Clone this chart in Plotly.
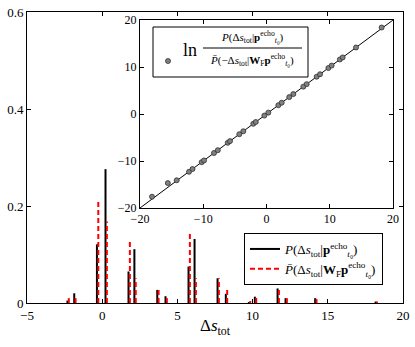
import plotly.graph_objects as go

# ---- data ----
ds_tot = [-2.31, -1.86, -0.35, 0.22, 1.75, 2.14, 3.66, 4.21, 5.74, 6.14,
          7.67, 8.22, 9.75, 10.15, 11.66, 12.19, 14.16, 18.18]
p_forward = [0.005, 0.020, 0.121, 0.276, 0.065, 0.111, 0.027, 0.014, 0.075, 0.132,
             0.051, 0.019, 0.002, 0.013, 0.030, 0.010, 0.010, 0.003]
p_backward = [0.010, 0.010, 0.211, 0.168, 0.129, 0.051, 0.028, 0.010, 0.147, 0.051,
              0.051, 0.028, 0.004, 0.012, 0.030, 0.010, 0.008, 0.003]

inset_x = [-18.1, -15.6, -14.2, -12.25, -11.7, -10.25, -9.88, -8.3, -7.7, -6.13,
           -5.77, -4.3, -3.67, -2.09, -1.7, -0.34, 0.29, 1.87, 2.4, 3.6, 4.24,
           5.82, 6.35, 7.93, 8.46, 9.78, 10.3, 11.6, 12.04, 14.15, 18.2]
inset_y = [-17.6, -14.7, -14.1, -12.3, -11.7, -10.25, -9.88, -8.3, -7.7, -6.13,
           -5.77, -4.3, -3.67, -2.09, -1.7, -0.34, 0.29, 1.87, 2.4, 3.6, 4.24,
           5.82, 6.35, 7.93, 8.46, 9.78, 10.3, 11.6, 12.04, 14.15, 18.4]
diag = [-20, 20]

main_xticks = [-5, 0, 5, 10, 15, 20]
main_xticklabels = ["\u22125", "0", "5", "10", "15", "20"]
main_yticks = [0, 0.2, 0.4, 0.6]
main_yticklabels = ["0", "0.2", "0.4", "0.6"]
inset_ticks = [-20, -10, 0, 10, 20]
inset_ticklabels = ["\u221220", "\u221210", "0", "10", "20"]

RED_SHIFT = 0.09  # small horizontal shift of the dashed series (style)

FONT = "Liberation Serif"


def stems(xs, ys, shift=0.0):
    sx, sy = [], []
    for x, y in zip(xs, ys):
        sx += [x + shift, x + shift, None]
        sy += [0, y, None]
    return sx, sy


fig = go.Figure()

bx, by = stems(ds_tot, p_forward)
rx, ry = stems(ds_tot, p_backward, RED_SHIFT)

lab1 = "<i>P</i>(\u0394<i>s</i><sub>tot</sub>|<b>p</b><sup>echo</sup><sub><i>t</i>\u2080</sub>)"
lab2 = "<i>P\u0304</i>(\u0394<i>s</i><sub>tot</sub>|<b>W</b><sub>F</sub><b>p</b><sup>echo</sup><sub><i>t</i>\u2080</sub>)"

fig.add_trace(go.Scatter(x=bx, y=by, mode="lines", name=lab1,
                         line=dict(color="black", width=2)))
fig.add_trace(go.Scatter(x=rx, y=ry, mode="lines", name=lab2,
                         line=dict(color="#ff0000", width=2, dash="5px,3px")))

# inset
fig.add_trace(go.Scatter(x=diag, y=diag, mode="lines", xaxis="x2", yaxis="y2",
                         line=dict(color="black", width=1), showlegend=False))
fig.add_trace(go.Scatter(x=inset_x, y=inset_y, mode="markers", xaxis="x2", yaxis="y2",
                         marker=dict(size=5, color="#808080",
                                     line=dict(color="#303030", width=0.8)),
                         showlegend=False))

L, R, T, B = 27, 12, 12, 44
W, H = 415, 347
pw, ph = W - L - R, H - T - B


def px2x(px):
    return (px - L) / pw


def py2y(py):
    return (H - B - py) / ph


axis_common = dict(showgrid=False, zeroline=False, showline=True, linecolor="black",
                   linewidth=1, mirror="ticks", ticks="inside", ticklen=4,
                   tickcolor="black", tickwidth=1, automargin=False)

fig.update_layout(
    width=W, height=H,
    margin=dict(l=L, r=R, t=T, b=B, autoexpand=False),
    paper_bgcolor="white", plot_bgcolor="white",
    font=dict(family=FONT, size=13, color="black"),
    xaxis=dict(range=[-5, 20], tickvals=main_xticks, ticktext=main_xticklabels,
               tickfont=dict(size=13), **axis_common),
    yaxis=dict(range=[0, 0.6], tickvals=main_yticks, ticktext=main_yticklabels,
               tickfont=dict(size=13), **axis_common),
    xaxis2=dict(domain=[px2x(140), px2x(393)], anchor="y2", range=[-20, 20],
                tickvals=inset_ticks, ticktext=inset_ticklabels,
                tickfont=dict(size=12), **axis_common),
    yaxis2=dict(domain=[py2y(208), py2y(20)], anchor="x2", range=[-20, 20],
                tickvals=inset_ticks, ticktext=inset_ticklabels,
                tickfont=dict(size=12), **axis_common),
    legend=dict(x=px2x(244), y=py2y(233), xanchor="left", yanchor="top",
                bgcolor="white", bordercolor="black", borderwidth=1,
                font=dict(size=13, family=FONT), tracegroupgap=0,
                itemwidth=30),
    showlegend=True,
)

# inset legend (box, marker, fraction label)
fig.add_shape(type="rect", xref="paper", yref="paper",
              x0=px2x(153), x1=px2x(308), y0=py2y(77), y1=py2y(27),
              line=dict(color="black", width=1), fillcolor="white", layer="above")
fig.add_shape(type="circle", xref="paper", yref="paper",
              xsizemode="pixel", ysizemode="pixel",
              xanchor=px2x(168), yanchor=py2y(61),
              x0=-2.5, x1=2.5, y0=-2.5, y1=2.5,
              fillcolor="#808080", line=dict(color="#303030", width=0.8))
fig.add_shape(type="line", xref="paper", yref="paper",
              x0=px2x(203), x1=px2x(302), y0=py2y(48), y1=py2y(48),
              line=dict(color="black", width=1))
fig.add_annotation(xref="paper", yref="paper", x=px2x(190), y=py2y(50),
                   text="ln", showarrow=False, font=dict(size=18, family=FONT),
                   xanchor="center", yanchor="middle")
fig.add_annotation(xref="paper", yref="paper", x=px2x(252), y=py2y(37),
                   text="<i>P</i>(\u0394<i>s</i><sub>tot</sub>|<b>p</b><sup>echo</sup><sub><i>t</i>\u2080</sub>)",
                   showarrow=False, font=dict(size=11, family=FONT),
                   xanchor="center", yanchor="middle")
fig.add_annotation(xref="paper", yref="paper", x=px2x(252), y=py2y(60),
                   text="<i>P\u0304</i>(\u2212\u0394<i>s</i><sub>tot</sub>|<b>W</b><sub>F</sub><b>p</b><sup>echo</sup><sub><i>t</i>\u2080</sub>)",
                   showarrow=False, font=dict(size=11, family=FONT),
                   xanchor="center", yanchor="middle")

# x-axis title
fig.add_annotation(xref="paper", yref="paper", x=0.5, y=py2y(327),
                   text="\u0394<i>s</i><sub>tot</sub>", showarrow=False,
                   font=dict(size=17, family=FONT), xanchor="center", yanchor="middle")

fig.write_html("out.html", config={"displayModeBar": False},
               post_script="document.body.style.margin='0';document.body.style.overflow='hidden';")
